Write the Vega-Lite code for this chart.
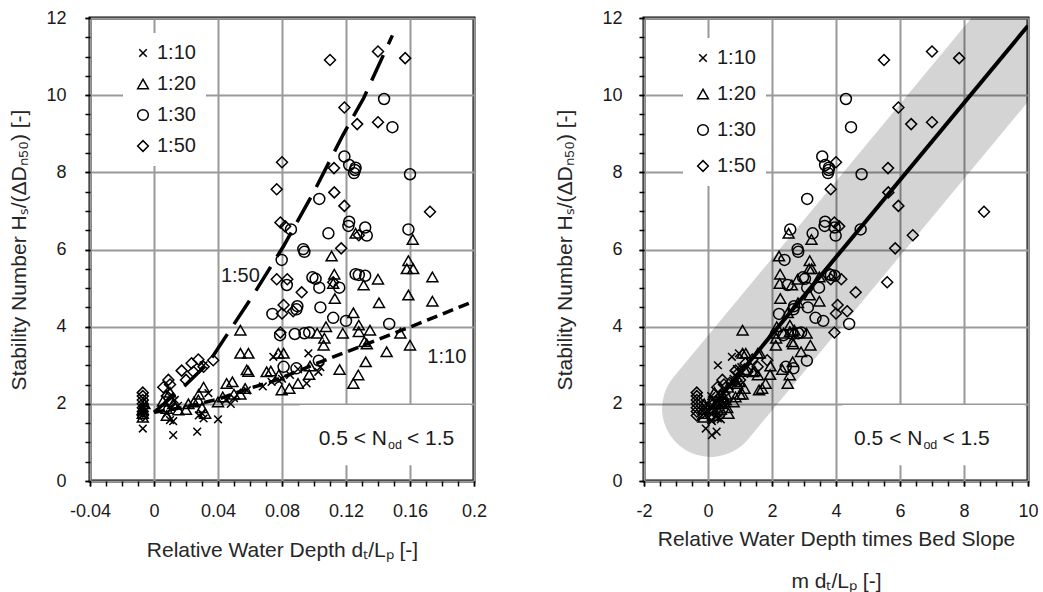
{
"$schema": "https://vega.github.io/schema/vega-lite/v6.json",
"padding": {"left": 6, "top": 7, "right": 5, "bottom": 2},
"spacing": 63,
"config": {
  "font": "Liberation Sans",
  "view": {"stroke": "black", "strokeWidth": 3},
  "axis": {"domain": false, "gridColor": "#999999", "gridWidth": 2, "tickColor": "black", "tickWidth": 1.5, "tickSize": 5,
    "labelFontSize": 18, "labelColor": "#1a1a1a", "labelFont": "Liberation Sans", "titleFont": "Liberation Sans",
    "titleFontSize": 21, "titleFontWeight": "normal", "titleColor": "#262626", "labelOverlap": false, "labelFlush": false},
  "axisX": {"labelPadding": 16},
  "axisY": {"labelPadding": 19},
  "legend": {"orient": "none", "fillColor": "white", "padding": 10, "labelFontSize": 20, "labelFont": "Liberation Sans", "labelColor": "#1a1a1a",
    "symbolSize": 115, "symbolStrokeWidth": 1.5, "symbolStrokeColor": "black", "symbolFillColor": "transparent", "labelOffset": 4, "title": null}
},
"datasets": {
  "pts": [
    {"s":"1:10","d":-0.007,"md":-0.07,"h":1.36},{"s":"1:10","d":-0.007,"md":-0.07,"h":1.72},{"s":"1:10","d":-0.007,"md":-0.07,"h":1.8},{"s":"1:10","d":-0.007,"md":-0.07,"h":1.9},{"s":"1:10","d":-0.006,"md":-0.06,"h":2.0},
    {"s":"1:10","d":0.008,"md":0.08,"h":1.75},{"s":"1:10","d":0.01,"md":0.1,"h":1.58},{"s":"1:10","d":0.012,"md":0.12,"h":1.19},{"s":"1:10","d":0.012,"md":0.12,"h":1.55},{"s":"1:10","d":0.011,"md":0.11,"h":1.9},
    {"s":"1:10","d":0.013,"md":0.13,"h":2.1},{"s":"1:10","d":0.01,"md":0.1,"h":2.2},{"s":"1:10","d":0.015,"md":0.15,"h":1.95},{"s":"1:10","d":0.027,"md":0.27,"h":1.28},{"s":"1:10","d":0.028,"md":0.28,"h":1.7},
    {"s":"1:10","d":0.031,"md":0.31,"h":1.62},{"s":"1:10","d":0.03,"md":0.3,"h":1.75},{"s":"1:10","d":0.034,"md":0.34,"h":2.28},{"s":"1:10","d":0.031,"md":0.31,"h":3.0},{"s":"1:10","d":0.04,"md":0.4,"h":1.6},
    {"s":"1:10","d":0.045,"md":0.45,"h":2.1},{"s":"1:10","d":0.048,"md":0.48,"h":2.0},{"s":"1:10","d":0.05,"md":0.5,"h":2.15},{"s":"1:10","d":0.058,"md":0.58,"h":2.35},{"s":"1:10","d":0.068,"md":0.68,"h":2.45},
    {"s":"1:10","d":0.0735,"md":0.735,"h":2.57},{"s":"1:10","d":0.0746,"md":0.746,"h":3.22},{"s":"1:10","d":0.078,"md":0.78,"h":2.6},{"s":"1:10","d":0.08,"md":0.8,"h":2.65},{"s":"1:10","d":0.085,"md":0.85,"h":2.75},
    {"s":"1:10","d":0.09,"md":0.9,"h":2.9},{"s":"1:10","d":0.0954,"md":0.954,"h":2.53},{"s":"1:10","d":0.0965,"md":0.965,"h":3.31},{"s":"1:10","d":0.1027,"md":1.027,"h":2.83},{"s":"1:10","d":0.104,"md":1.04,"h":2.95},

    {"s":"1:20","d":-0.007,"md":-0.14,"h":1.65},{"s":"1:20","d":-0.007,"md":-0.14,"h":1.75},{"s":"1:20","d":-0.007,"md":-0.14,"h":1.85},{"s":"1:20","d":-0.006,"md":-0.12,"h":2.0},{"s":"1:20","d":0.0056,"md":0.112,"h":2.07},
    {"s":"1:20","d":0.0079,"md":0.158,"h":1.88},{"s":"1:20","d":0.008,"md":0.16,"h":1.7},{"s":"1:20","d":0.01,"md":0.2,"h":2.3},{"s":"1:20","d":0.012,"md":0.24,"h":2.0},{"s":"1:20","d":0.0152,"md":0.304,"h":1.84},
    {"s":"1:20","d":0.0215,"md":0.43,"h":2.0},{"s":"1:20","d":0.02,"md":0.4,"h":1.85},{"s":"1:20","d":0.025,"md":0.5,"h":2.05},{"s":"1:20","d":0.0277,"md":0.554,"h":2.1},{"s":"1:20","d":0.028,"md":0.56,"h":2.25},
    {"s":"1:20","d":0.031,"md":0.62,"h":2.43},{"s":"1:20","d":0.03,"md":0.6,"h":1.9},{"s":"1:20","d":0.032,"md":0.64,"h":1.75},{"s":"1:20","d":0.04,"md":0.8,"h":2.05},{"s":"1:20","d":0.043,"md":0.86,"h":2.18},
    {"s":"1:20","d":0.0454,"md":0.908,"h":2.53},{"s":"1:20","d":0.049,"md":0.98,"h":2.57},{"s":"1:20","d":0.05,"md":1.0,"h":2.25},{"s":"1:20","d":0.054,"md":1.08,"h":2.25},{"s":"1:20","d":0.057,"md":1.14,"h":2.4},
    {"s":"1:20","d":0.058,"md":1.16,"h":2.88},{"s":"1:20","d":0.059,"md":1.18,"h":2.84},{"s":"1:20","d":0.054,"md":1.08,"h":3.31},{"s":"1:20","d":0.059,"md":1.18,"h":3.31},{"s":"1:20","d":0.054,"md":1.08,"h":3.91},
    {"s":"1:20","d":0.0704,"md":1.408,"h":2.83},{"s":"1:20","d":0.073,"md":1.46,"h":2.85},{"s":"1:20","d":0.0777,"md":1.554,"h":3.31},{"s":"1:20","d":0.081,"md":1.62,"h":3.31},{"s":"1:20","d":0.078,"md":1.56,"h":2.75},
    {"s":"1:20","d":0.0798,"md":1.596,"h":2.36},{"s":"1:20","d":0.0846,"md":1.692,"h":2.4},{"s":"1:20","d":0.09,"md":1.8,"h":2.53},{"s":"1:20","d":0.097,"md":1.94,"h":2.76},{"s":"1:20","d":0.0975,"md":1.95,"h":2.98},
    {"s":"1:20","d":0.102,"md":2.04,"h":3.83},{"s":"1:20","d":0.1065,"md":2.13,"h":3.7},{"s":"1:20","d":0.106,"md":2.12,"h":3.52},{"s":"1:20","d":0.1075,"md":2.15,"h":4.0},{"s":"1:20","d":0.118,"md":2.36,"h":3.83},
    {"s":"1:20","d":0.128,"md":2.56,"h":3.87},{"s":"1:20","d":0.135,"md":2.7,"h":3.91},{"s":"1:20","d":0.1315,"md":2.63,"h":3.61},{"s":"1:20","d":0.133,"md":2.66,"h":3.55},{"s":"1:20","d":0.1323,"md":2.646,"h":3.09},
    {"s":"1:20","d":0.116,"md":2.32,"h":2.89},{"s":"1:20","d":0.1277,"md":2.554,"h":2.75},{"s":"1:20","d":0.1246,"md":2.492,"h":2.53},{"s":"1:20","d":0.1454,"md":2.908,"h":3.35},{"s":"1:20","d":0.154,"md":3.08,"h":3.83},
    {"s":"1:20","d":0.16,"md":3.2,"h":3.52},{"s":"1:20","d":0.111,"md":2.22,"h":5.83},{"s":"1:20","d":0.1617,"md":3.234,"h":6.26},{"s":"1:20","d":0.159,"md":3.18,"h":5.71},{"s":"1:20","d":0.158,"md":3.16,"h":5.5},
    {"s":"1:20","d":0.162,"md":3.24,"h":5.5},{"s":"1:20","d":0.174,"md":3.48,"h":5.29},{"s":"1:20","d":0.14,"md":2.8,"h":5.23},{"s":"1:20","d":0.131,"md":2.62,"h":5.08},{"s":"1:20","d":0.1127,"md":2.254,"h":5.36},
    {"s":"1:20","d":0.112,"md":2.24,"h":5.12},{"s":"1:20","d":0.113,"md":2.26,"h":4.73},{"s":"1:20","d":0.1406,"md":2.812,"h":4.62},{"s":"1:20","d":0.159,"md":3.18,"h":4.82},{"s":"1:20","d":0.174,"md":3.48,"h":4.66},
    {"s":"1:20","d":0.1246,"md":2.492,"h":4.36},{"s":"1:20","d":0.128,"md":2.56,"h":4.04},{"s":"1:20","d":0.126,"md":2.52,"h":6.42},

    {"s":"1:30","d":0.1438,"md":4.31,"h":9.9},{"s":"1:30","d":0.149,"md":4.47,"h":9.17},{"s":"1:30","d":0.119,"md":3.57,"h":8.41},{"s":"1:30","d":0.122,"md":3.66,"h":8.19},{"s":"1:30","d":0.1256,"md":3.77,"h":8.06},
    {"s":"1:30","d":0.125,"md":3.75,"h":7.98},{"s":"1:30","d":0.126,"md":3.78,"h":8.12},{"s":"1:30","d":0.16,"md":4.8,"h":7.95},{"s":"1:30","d":0.1033,"md":3.1,"h":7.31},{"s":"1:30","d":0.122,"md":3.66,"h":6.72},
    {"s":"1:30","d":0.1215,"md":3.645,"h":6.61},{"s":"1:30","d":0.132,"md":3.96,"h":6.57},{"s":"1:30","d":0.133,"md":3.99,"h":6.36},{"s":"1:30","d":0.159,"md":4.77,"h":6.52},{"s":"1:30","d":0.109,"md":3.27,"h":6.42},
    {"s":"1:30","d":0.0856,"md":2.57,"h":6.52},{"s":"1:30","d":0.0933,"md":2.8,"h":6.01},{"s":"1:30","d":0.094,"md":2.82,"h":5.94},{"s":"1:30","d":0.0798,"md":2.39,"h":5.73},{"s":"1:30","d":0.099,"md":2.97,"h":5.28},
    {"s":"1:30","d":0.101,"md":3.03,"h":5.24},{"s":"1:30","d":0.1033,"md":3.1,"h":5.01},{"s":"1:30","d":0.1158,"md":3.47,"h":5.01},{"s":"1:30","d":0.126,"md":3.78,"h":5.36},{"s":"1:30","d":0.128,"md":3.84,"h":5.34},
    {"s":"1:30","d":0.132,"md":3.96,"h":5.32},{"s":"1:30","d":0.083,"md":2.49,"h":5.08},{"s":"1:30","d":0.0896,"md":2.69,"h":4.53},{"s":"1:30","d":0.089,"md":2.67,"h":4.45},{"s":"1:30","d":0.074,"md":2.22,"h":4.33},
    {"s":"1:30","d":0.104,"md":3.12,"h":4.5},{"s":"1:30","d":0.112,"md":3.36,"h":4.23},{"s":"1:30","d":0.12,"md":3.6,"h":4.15},{"s":"1:30","d":0.147,"md":4.41,"h":4.07},{"s":"1:30","d":0.0788,"md":2.36,"h":3.78},
    {"s":"1:30","d":0.088,"md":2.64,"h":3.81},{"s":"1:30","d":0.094,"md":2.82,"h":3.83},{"s":"1:30","d":0.097,"md":2.91,"h":3.85},{"s":"1:30","d":0.081,"md":2.43,"h":2.96},{"s":"1:30","d":0.089,"md":2.67,"h":2.92},
    {"s":"1:30","d":0.103,"md":3.09,"h":3.12},

    {"s":"1:50","d":0.11,"md":5.5,"h":10.91},{"s":"1:50","d":0.14,"md":7.0,"h":11.13},{"s":"1:50","d":0.157,"md":7.85,"h":10.96},{"s":"1:50","d":0.119,"md":5.95,"h":9.68},{"s":"1:50","d":0.127,"md":6.35,"h":9.25},
    {"s":"1:50","d":0.14,"md":7.0,"h":9.3},{"s":"1:50","d":0.08,"md":4.0,"h":8.26},{"s":"1:50","d":0.1125,"md":5.625,"h":8.11},{"s":"1:50","d":0.0767,"md":3.835,"h":7.56},{"s":"1:50","d":0.1127,"md":5.635,"h":7.48},
    {"s":"1:50","d":0.119,"md":5.95,"h":7.13},{"s":"1:50","d":0.1725,"md":8.625,"h":6.98},{"s":"1:50","d":0.079,"md":3.95,"h":6.7},{"s":"1:50","d":0.082,"md":4.1,"h":6.6},{"s":"1:50","d":0.128,"md":6.4,"h":6.37},
    {"s":"1:50","d":0.117,"md":5.85,"h":6.03},{"s":"1:50","d":0.0767,"md":3.835,"h":5.23},{"s":"1:50","d":0.0833,"md":4.165,"h":5.23},{"s":"1:50","d":0.0923,"md":4.615,"h":4.89},{"s":"1:50","d":0.081,"md":4.05,"h":4.56},
    {"s":"1:50","d":0.08,"md":4.0,"h":4.34},{"s":"1:50","d":0.087,"md":4.35,"h":4.4},{"s":"1:50","d":0.079,"md":3.95,"h":3.85},{"s":"1:50","d":0.112,"md":5.6,"h":5.15},
    {"s":"1:50","d":-0.007,"md":-0.35,"h":1.7},{"s":"1:50","d":-0.007,"md":-0.35,"h":1.8},{"s":"1:50","d":-0.007,"md":-0.35,"h":1.9},{"s":"1:50","d":-0.007,"md":-0.35,"h":2.0},{"s":"1:50","d":-0.007,"md":-0.35,"h":2.1},
    {"s":"1:50","d":-0.007,"md":-0.35,"h":2.2},{"s":"1:50","d":-0.007,"md":-0.35,"h":2.29},{"s":"1:50","d":0.0058,"md":0.29,"h":2.43},{"s":"1:50","d":0.009,"md":0.45,"h":2.62},{"s":"1:50","d":0.01,"md":0.5,"h":2.5},
    {"s":"1:50","d":0.0173,"md":0.865,"h":2.86},{"s":"1:50","d":0.02,"md":1.0,"h":2.62},{"s":"1:50","d":0.0246,"md":1.23,"h":2.83},{"s":"1:50","d":0.0235,"md":1.175,"h":3.05},{"s":"1:50","d":0.0277,"md":1.385,"h":3.15},
    {"s":"1:50","d":0.031,"md":1.55,"h":2.96},{"s":"1:50","d":0.037,"md":1.85,"h":3.13},{"s":"1:50","d":0.008,"md":0.4,"h":2.2},{"s":"1:50","d":0.01,"md":0.5,"h":2.05}
  ],
  "lines": [
    {"k":"L50","x":0,"y":1.78},{"k":"L50","x":0.02,"y":2.5},{"k":"L50","x":0.034,"y":3.06},{"k":"L50","x":0.0475,"y":3.91},{"k":"L50","x":0.062,"y":4.82},
    {"k":"L50","x":0.081,"y":6.09},{"k":"L50","x":0.1,"y":7.5},{"k":"L50","x":0.118,"y":8.96},{"k":"L50","x":0.131,"y":9.92},{"k":"L50","x":0.149,"y":11.55},
    {"k":"L10","x":0,"y":1.78},{"k":"L10","x":0.02,"y":1.92},{"k":"L10","x":0.04,"y":2.12},{"k":"L10","x":0.058,"y":2.38},{"k":"L10","x":0.074,"y":2.58},
    {"k":"L10","x":0.1025,"y":3.06},{"k":"L10","x":0.118,"y":3.31},{"k":"L10","x":0.16,"y":3.99},{"k":"L10","x":0.2,"y":4.66},
    {"k":"fit","x":0,"y":1.8},{"k":"fit","x":10,"y":11.8},
    {"k":"band","x":0.08,"y":1.88},{"k":"band","x":11,"y":12.8}
  ]
},
"resolve": {"scale": {"shape": "independent"}, "legend": {"shape": "independent"}},
"hconcat": [
{
  "width": 384, "height": 463,
  "resolve": {"axis": {"x": "independent", "y": "independent"}},
  "layer": [
    {"data": {"values": [{}]}, "mark": {"type": "rect", "fill": "white"},
     "encoding": {"x": {"datum": 0.091, "type": "quantitative", "scale": {"domain": [-0.04, 0.2], "nice": false, "zero": false},
         "axis": {"orient": "bottom", "title": null, "grid": false, "labels": false, "ticks": true,
           "values": [-0.04,-0.03,-0.02,-0.01,0,0.01,0.02,0.03,0.04,0.05,0.06,0.07,0.08,0.09,0.1,0.11,0.12,0.13,0.14,0.15,0.16,0.17,0.18,0.19,0.2]}},
       "x2": {"datum": 0.198},
       "y": {"datum": 0.41, "type": "quantitative", "scale": {"domain": [0, 12], "nice": false, "zero": false},
         "axis": {"orient": "left", "title": null, "grid": false, "labels": false, "ticks": true,
           "values": [0,0.5,1,1.5,2,2.5,3,3.5,4,4.5,5,5.5,6,6.5,7,7.5,8,8.5,9,9.5,10,10.5,11,11.5,12]}},
       "y2": {"datum": 1.97}}},
    {"data": {"name": "lines"}, "transform": [{"filter": "datum.k === 'L50'"}],
     "mark": {"type": "line", "color": "black", "strokeWidth": 3.5, "strokeDash": [28, 12], "clip": true},
     "encoding": {"x": {"field": "x", "type": "quantitative", "scale": {"domain": [-0.04, 0.2], "nice": false, "zero": false}, "axis": null},
       "y": {"field": "y", "type": "quantitative", "scale": {"domain": [0, 12], "nice": false, "zero": false}, "axis": null}}},
    {"data": {"name": "lines"}, "transform": [{"filter": "datum.k === 'L10'"}],
     "mark": {"type": "line", "color": "black", "strokeWidth": 3.5, "strokeDash": [11, 6], "clip": true},
     "encoding": {"x": {"field": "x", "type": "quantitative", "scale": {"domain": [-0.04, 0.2], "nice": false, "zero": false}, "axis": null},
       "y": {"field": "y", "type": "quantitative", "scale": {"domain": [0, 12], "nice": false, "zero": false}, "axis": null}}},
    {"data": {"name": "pts"},
     "mark": {"type": "point", "filled": false, "color": "black", "strokeWidth": 1.5, "size": 120, "opacity": 1},
     "encoding": {
       "x": {"field": "d", "type": "quantitative", "scale": {"domain": [-0.04, 0.2], "nice": false, "zero": false},
         "axis": {"orient": "bottom", "title": "Relative Water Depth dₜ/Lₚ [-]", "titlePadding": 19, "grid": true,
           "values": [-0.04, 0, 0.04, 0.08, 0.12, 0.16, 0.2],
           "labelExpr": "datum.value < 0 ? '-' + format(-datum.value, '.2~f') : format(datum.value, '.2~f')"}},
       "y": {"field": "h", "type": "quantitative", "scale": {"domain": [0, 12], "nice": false, "zero": false},
         "axis": {"orient": "left", "title": "Stability Number Hₛ/(ΔDₙ₅₀) [-]", "titlePadding": 16.5, "grid": true,
           "values": [0, 2, 4, 6, 8, 10, 12], "format": "d"}},
       "shape": {"field": "s", "type": "nominal",
         "scale": {"domain": ["1:10", "1:20", "1:30", "1:50"], "range": ["M-0.7,-0.7L0.7,0.7M-0.7,0.7L0.7,-0.7", "triangle-up", "circle", "diamond"]},
         "legend": {"legendX": 33, "legendY": 15, "rowPadding": 11}}
     }},
    {"data": {"values": [{}]}, "mark": {"type": "text", "text": "1:50", "fontSize": 20, "color": "#1a1a1a", "align": "center", "baseline": "middle"},
     "encoding": {"x": {"datum": 0.054, "type": "quantitative", "axis": null}, "y": {"datum": 5.31, "type": "quantitative", "axis": null}}},
    {"data": {"values": [{}]}, "mark": {"type": "text", "text": "1:10", "fontSize": 20, "color": "#1a1a1a", "align": "center", "baseline": "middle"},
     "encoding": {"x": {"datum": 0.183, "type": "quantitative", "axis": null}, "y": {"datum": 3.21, "type": "quantitative", "axis": null}}},
    {"data": {"values": [{}]}, "mark": {"type": "text", "text": "0.5  <  N", "fontSize": 21, "color": "#1a1a1a", "align": "right", "baseline": "alphabetic"},
     "encoding": {"x": {"datum": 0.1456, "type": "quantitative", "axis": null}, "y": {"datum": 0.93, "type": "quantitative", "axis": null}}},
    {"data": {"values": [{}]}, "mark": {"type": "text", "text": "od", "fontSize": 12.5, "color": "#1a1a1a", "align": "left", "baseline": "alphabetic", "dx": 1, "dy": 4},
     "encoding": {"x": {"datum": 0.1456, "type": "quantitative", "axis": null}, "y": {"datum": 0.93, "type": "quantitative", "axis": null}}},
    {"data": {"values": [{}]}, "mark": {"type": "text", "text": "< 1.5", "fontSize": 21, "color": "#1a1a1a", "align": "left", "baseline": "alphabetic", "dx": 20},
     "encoding": {"x": {"datum": 0.1456, "type": "quantitative", "axis": null}, "y": {"datum": 0.93, "type": "quantitative", "axis": null}}}
  ]
},
{
  "width": 384, "height": 463,
  "resolve": {"axis": {"x": "independent", "y": "independent"}},
  "layer": [
    {"data": {"name": "lines"}, "transform": [{"filter": "datum.k === 'band'"}],
     "mark": {"type": "line", "color": "black", "opacity": 0.17, "strokeWidth": 97, "strokeCap": "round", "clip": true},
     "encoding": {"x": {"field": "x", "type": "quantitative", "scale": {"domain": [-2, 10], "nice": false, "zero": false}, "axis": null},
       "y": {"field": "y", "type": "quantitative", "scale": {"domain": [0, 12], "nice": false, "zero": false}, "axis": null}}},
    {"data": {"values": [{}]}, "mark": {"type": "rect", "fill": "white"},
     "encoding": {"x": {"datum": 4.2, "type": "quantitative", "scale": {"domain": [-2, 10], "nice": false, "zero": false},
         "axis": {"orient": "bottom", "title": null, "grid": false, "labels": false, "ticks": true,
           "values": [-2,-1.5,-1,-0.5,0,0.5,1,1.5,2,2.5,3,3.5,4,4.5,5,5.5,6,6.5,7,7.5,8,8.5,9,9.5,10]}},
       "x2": {"datum": 9.9},
       "y": {"datum": 0.41, "type": "quantitative", "scale": {"domain": [0, 12], "nice": false, "zero": false},
         "axis": {"orient": "left", "title": null, "grid": false, "labels": false, "ticks": true,
           "values": [0,0.5,1,1.5,2,2.5,3,3.5,4,4.5,5,5.5,6,6.5,7,7.5,8,8.5,9,9.5,10,10.5,11,11.5,12]}},
       "y2": {"datum": 1.97}}},
    {"data": {"name": "lines"}, "transform": [{"filter": "datum.k === 'fit'"}],
     "mark": {"type": "line", "color": "black", "strokeWidth": 4, "clip": true},
     "encoding": {"x": {"field": "x", "type": "quantitative", "scale": {"domain": [-2, 10], "nice": false, "zero": false}, "axis": null},
       "y": {"field": "y", "type": "quantitative", "scale": {"domain": [0, 12], "nice": false, "zero": false}, "axis": null}}},
    {"data": {"name": "pts"},
     "mark": {"type": "point", "filled": false, "color": "black", "strokeWidth": 1.5, "size": 120, "opacity": 1},
     "encoding": {
       "x": {"field": "md", "type": "quantitative", "scale": {"domain": [-2, 10], "nice": false, "zero": false},
         "axis": {"orient": "bottom", "title": ["Relative Water Depth times Bed Slope", "m dₜ/Lₚ [-]"], "titlePadding": 8, "titleLineHeight": 42, "grid": true,
           "values": [-2, 0, 2, 4, 6, 8, 10],
           "labelExpr": "datum.value < 0 ? '-' + format(-datum.value, 'd') : format(datum.value, 'd')"}},
       "y": {"field": "h", "type": "quantitative", "scale": {"domain": [0, 12], "nice": false, "zero": false},
         "axis": {"orient": "left", "title": "Stability Number Hₛ/(ΔDₙ₅₀) [-]", "titlePadding": 26.5, "labelPadding": 17, "grid": true,
           "values": [0, 2, 4, 6, 8, 10, 12], "format": "d"}},
       "shape": {"field": "s", "type": "nominal",
         "scale": {"domain": ["1:10", "1:20", "1:30", "1:50"], "range": ["M-0.7,-0.7L0.7,0.7M-0.7,0.7L0.7,-0.7", "triangle-up", "circle", "diamond"]},
         "legend": {"legendX": 39, "legendY": 20, "rowPadding": 16}}
     }},
    {"data": {"values": [{}]}, "mark": {"type": "text", "text": "0.5  <  N", "fontSize": 21, "color": "#1a1a1a", "align": "right", "baseline": "alphabetic"},
     "encoding": {"x": {"datum": 6.7, "type": "quantitative", "axis": null}, "y": {"datum": 0.93, "type": "quantitative", "axis": null}}},
    {"data": {"values": [{}]}, "mark": {"type": "text", "text": "od", "fontSize": 12.5, "color": "#1a1a1a", "align": "left", "baseline": "alphabetic", "dx": 1, "dy": 4},
     "encoding": {"x": {"datum": 6.7, "type": "quantitative", "axis": null}, "y": {"datum": 0.93, "type": "quantitative", "axis": null}}},
    {"data": {"values": [{}]}, "mark": {"type": "text", "text": "< 1.5", "fontSize": 21, "color": "#1a1a1a", "align": "left", "baseline": "alphabetic", "dx": 20},
     "encoding": {"x": {"datum": 6.7, "type": "quantitative", "axis": null}, "y": {"datum": 0.93, "type": "quantitative", "axis": null}}}
  ]
}
]
}
